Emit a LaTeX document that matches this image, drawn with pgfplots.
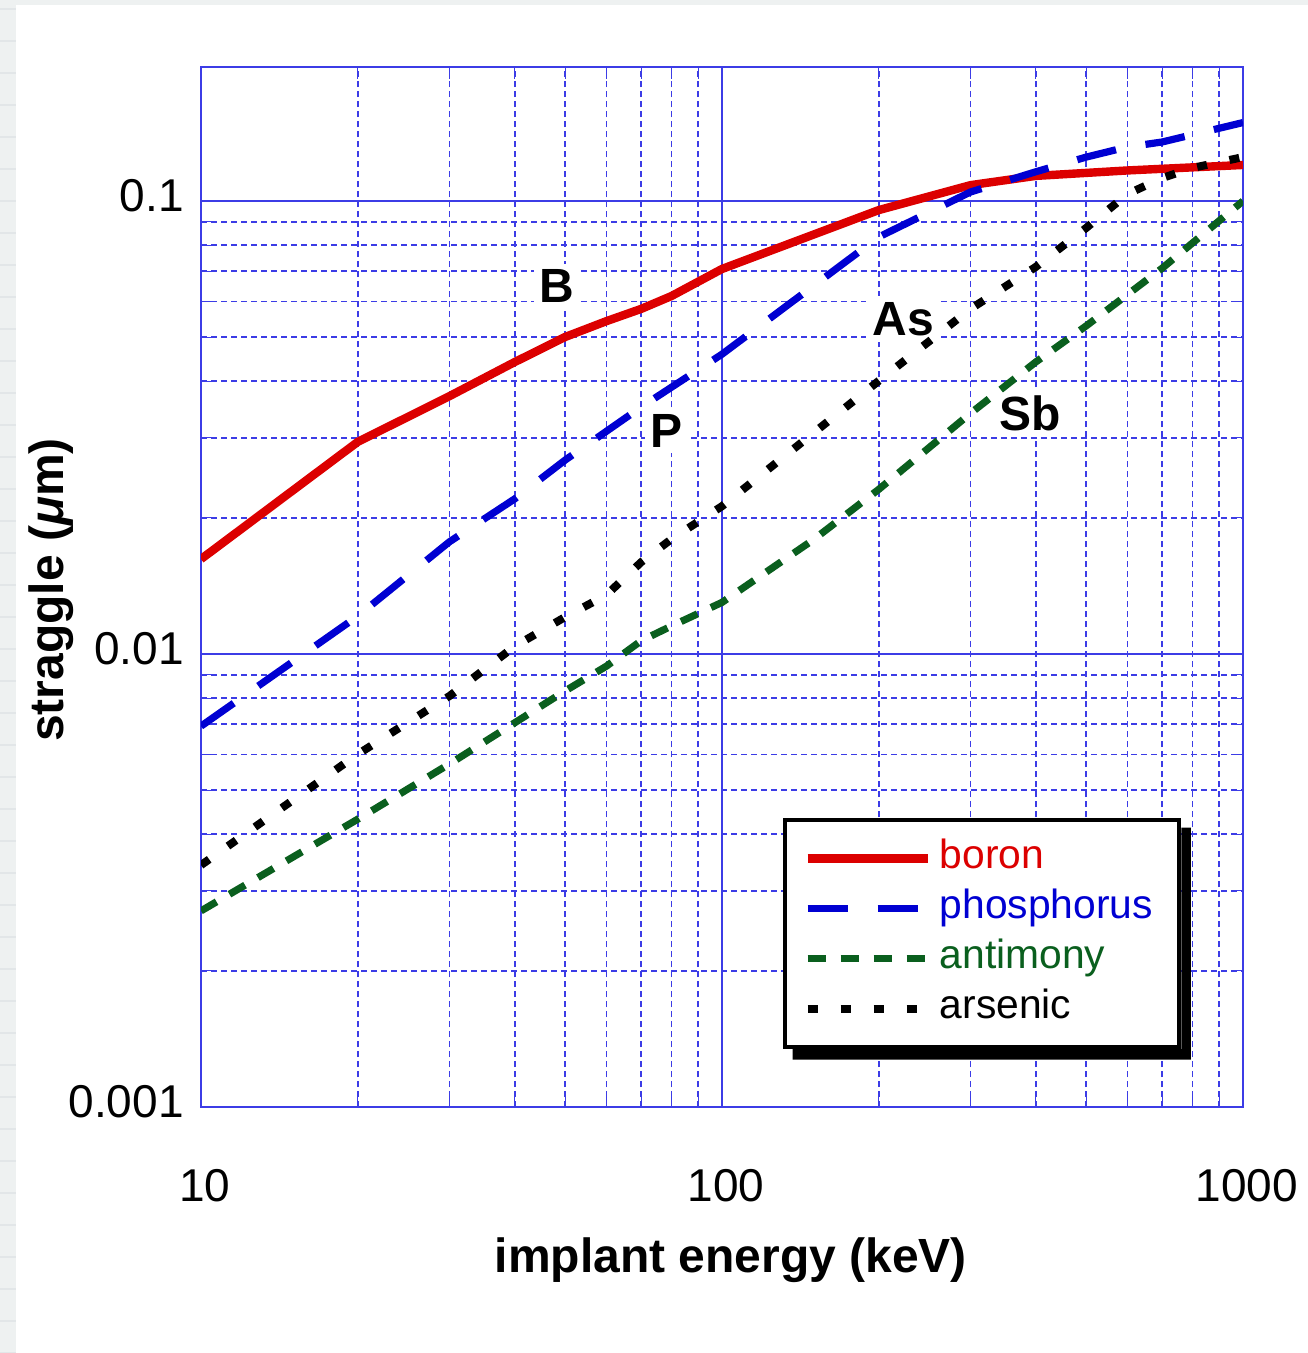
\documentclass[border=0pt]{standalone}
\usepackage{fontspec}
\setmainfont{Liberation Sans}
\usepackage{pgfplots}
\pgfplotsset{compat=1.18}

\definecolor{bcol}{RGB}{220,0,0}
\definecolor{pcol}{RGB}{0,0,210}
\definecolor{sbcol}{RGB}{10,95,30}
\definecolor{gridblue}{RGB}{60,60,230}
\definecolor{bgcol}{RGB}{238,241,241}
\definecolor{bgline}{RGB}{226,230,232}

\begin{document}
\begin{tikzpicture}
% page background (screenshot margin)
\fill[bgcol] (-50.25pt,-61.5pt) rectangle (276.75pt,276.75pt);
\begin{scope}
  \clip (-50.25pt,-61.5pt) rectangle (-46.25pt,276.75pt);
  \foreach \k in {0,...,42} \draw[bgline, line width=0.4pt] (-50.25pt,-61.5pt+\k*8pt) -- (-46.25pt,-61.5pt+\k*8pt);
\end{scope}
\fill[white] (-46.25pt,-61.5pt) rectangle (276.75pt,275.5pt);

\begin{axis}[
    xmode=log, ymode=log,
    scale only axis,
    width=260.5pt, height=260pt,
    xmin=10, xmax=1000,
    ymin=0.001, ymax=0.1976,
    xtick={10,100,1000}, xticklabels={10,100,1000},
    ytick={0.001,0.01,0.1}, yticklabels={0.001,0.01,0.1},
    minor xtick={20,30,40,50,60,70,80,90,200,300,400,500,600,700,800,900},
    minor ytick={0.002,0.003,0.004,0.005,0.006,0.007,0.008,0.009,0.02,0.03,0.04,0.05,0.06,0.07,0.08,0.09},
    grid=both,
    major grid style={gridblue, line width=0.5pt},
    minor grid style={gridblue, line width=0.45pt, dash pattern=on 1.5pt off 1pt},
    axis line style={gridblue, line width=0.6pt},
    tick style={gridblue},
    tick align=inside,
    major tick length=5pt, minor tick length=3pt,
    ticklabel style={font=\fontsize{11.5}{13}\selectfont},
    /pgf/number format/assume math mode=true,
    xticklabel style={yshift=-12pt, xshift=1pt},
    yticklabel style={yshift=1.4pt, xshift=-0.8pt},
    xlabel={implant energy (keV)},
    ylabel={straggle (\textit{μ}m)},
    label style={font=\fontsize{12}{14}\selectfont\bfseries},
    xlabel style={at={([yshift=-41.25pt,xshift=2.2pt]axis description cs:0.5,0)}, anchor=base},
    ylabel style={at={([xshift=-34.5pt]axis description cs:0,0.497)}, anchor=base},
    legend cell align=left,
    legend image code/.code={\draw[#1] (0pt,0pt) -- (30pt,0pt);},
    legend style={
        name=leg,
        at={(0.5585,0.2779)}, anchor=north west,
        draw=black, line width=1pt, fill=white,
        font=\fontsize{10.2}{12}\selectfont,
        inner xsep=4.6pt, inner ysep=3.4pt,
        nodes={text height=7.5pt, text depth=2.5pt, inner ysep=1.25pt},
    },
]
\node[font=\fontsize{12}{14}\selectfont\bfseries, fill=white, inner sep=1.5pt] at (axis cs:48.2,0.0649) {B};
\node[font=\fontsize{12}{14}\selectfont\bfseries, fill=white, inner sep=1.5pt] at (axis cs:78.4,0.0311) {P};
\node[font=\fontsize{12}{14}\selectfont\bfseries, fill=white, inner sep=1.5pt] at (axis cs:222.6,0.0549) {As};
\node[font=\fontsize{12}{14}\selectfont\bfseries, fill=white, inner sep=1.5pt] at (axis cs:390,0.0339) {Sb};

% boron
\addplot[bcol, line width=2.1pt] coordinates {
    (10,0.0162) (20,0.0294) (30,0.0371) (40,0.0441) (50,0.0501) (60,0.0543)
    (70,0.0578) (80,0.0617) (100,0.0708) (200,0.0955) (300,0.1084)
    (400,0.1136) (600,0.1168) (1000,0.1201)
};
\addlegendentry{\color{bcol}boron}
% phosphorus
\addplot[pcol, line width=1.8pt, dash pattern=on 10pt off 7.5pt] coordinates {
    (10,0.00693) (20,0.01213) (30,0.0177) (40,0.0220) (50,0.0268) (70,0.0351)
    (100,0.0459) (200,0.0833) (300,0.1047) (400,0.116) (500,0.125)
    (600,0.1316) (700,0.135) (1000,0.149)
};
\addlegendentry{\color{pcol}phosphorus}
% antimony
\addplot[sbcol, line width=1.8pt, dash pattern=on 4.5pt off 3.75pt] coordinates {
    (10,0.00271) (20,0.00432) (30,0.00572) (50,0.00829) (60,0.0094)
    (70,0.0107) (80,0.01153) (100,0.0130) (150,0.0179) (200,0.0231)
    (300,0.0340) (400,0.0441) (500,0.0530) (700,0.0711) (1000,0.100)
};
\addlegendentry{\color{sbcol}antimony}
% arsenic
\addplot[black, line width=2pt, dash pattern=on 2.5pt off 5.75pt] coordinates {
    (10,0.00342) (20,0.00601) (30,0.00808) (40,0.0104) (50,0.01207)
    (60,0.0135) (70,0.01596) (80,0.01794) (100,0.0212) (200,0.0401)
    (300,0.0578) (400,0.0715) (500,0.0872) (600,0.1036) (700,0.1124)
    (800,0.1183) (1000,0.125)
};
\addlegendentry{arsenic}
\end{axis}
% legend shadow (right and bottom edges)
\fill[black] ([yshift=-2.4pt]leg.north east) -- ++(2.4pt,0pt)
    |- ([xshift=2.4pt,yshift=-2.6pt]leg.south west) -- ++(0pt,2.6pt)
    -- (leg.south east) -- cycle;
\pgfresetboundingbox
\useasboundingbox (-50.25pt,-61.5pt) rectangle (276.75pt,276.75pt);
\end{tikzpicture}
\end{document}
